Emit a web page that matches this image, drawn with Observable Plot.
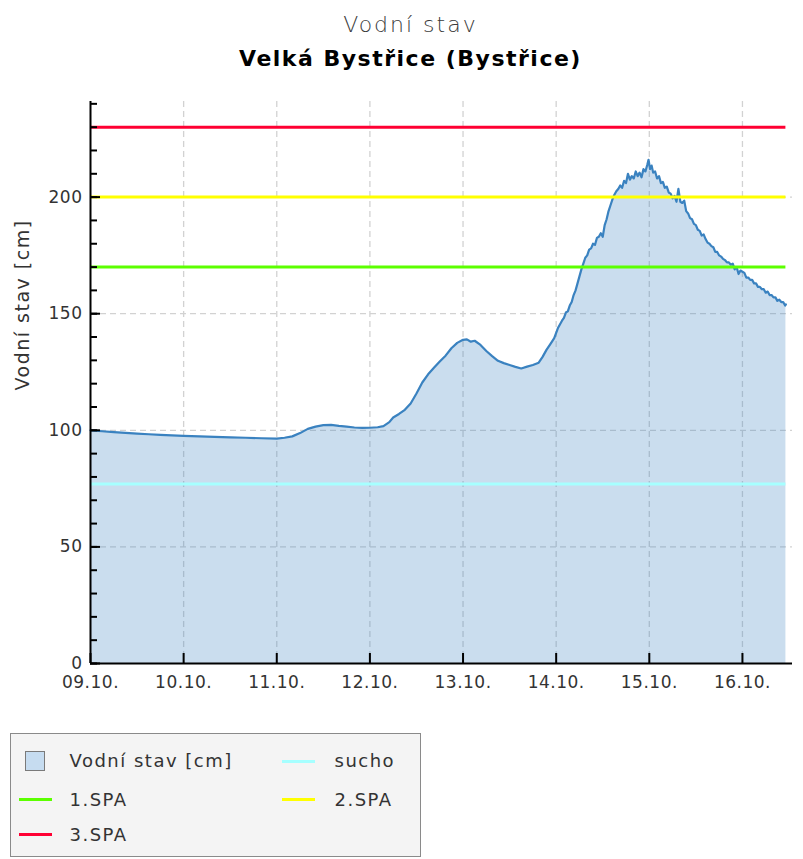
<!DOCTYPE html>
<html><head><meta charset="utf-8">
<script src="https://cdn.jsdelivr.net/npm/d3@7"></script>
<script src="https://cdn.jsdelivr.net/npm/@observablehq/plot@0.6"></script>
<style>
body{margin:0;background:#fff;font-family:"DejaVu Sans",sans-serif;}
#wrap{position:relative;width:803px;height:859px;overflow:hidden;background:#fff}
.t{position:absolute;left:9px;width:803px;text-align:center;white-space:nowrap;line-height:22px}
#title{top:14px;font-size:22px;font-weight:200;letter-spacing:2px;color:#3a3a3a}
#subtitle{top:48px;font-size:22px;font-weight:bold;letter-spacing:1.5px;color:#000}
#chart{position:absolute;left:0;top:90px}
#legend{position:absolute;left:10px;top:733px;width:409px;height:122px;background:#f4f4f4;border:1.5px solid #8a8a8a;}
.lt{position:absolute;font-size:18px;letter-spacing:1.5px;color:#333;line-height:18px;white-space:nowrap}
.ll{position:absolute;height:3px;width:33px}
.ls{position:absolute;width:18px;height:18px;border:1.5px solid #7a7a7a;background:#c6dcf0}
g[aria-label="text"] text{letter-spacing:1.5px}
g[aria-label="y-axis tick label"] text, g[aria-label="x-axis tick label"] text{letter-spacing:0.5px}
</style>
</head><body>
<div id="wrap">
  <div id="title" class="t">Vodní stav</div>
  <div id="subtitle" class="t">Velká Bystřice (Bystřice)</div>
  <div id="chart"></div>
  <div id="legend"></div>
</div>
<script>
const titleText = "Vodní stav";
const subtitleText = "Velká Bystřice (Bystřice)";
const yLabel = "Vodní stav [cm]";
const seriesName = "Vodní stav [cm]";

// hours since 09.10. 00:00 and water level in cm
const hours = [0,3,6,9,12,15,18,21,24,28,32,36,40,44,48,50,52,54,56,58,60,62,64,66,68,70,72,74,75.5,77,78,79.5,81,82.5,84,85.5,87,88.5,90,91.5,93,94.5,96,97,98,99,100.5,102,103.5,105,106.5,108,109.5,111,112.5,114,115.5,116.5,117.5,118.5,119.5,
  120.5,121,121.5,122,122.5,123,123.5,124,124.5,125,125.5,126,126.5,127,127.5,128,128.5,129,129.5,130,130.5,131,131.5,132,132.5,133,133.5,134,134.5,135,135.5,136,136.5,137,137.5,138,138.5,139,139.5,140,140.5,141,141.5,142,142.5,143,143.5,143.8,144.2,144.6,145,145.5,146,146.5,147,147.5,148,148.5,149,149.5,150,150.5,151,151.5,152,152.5,153,153.5,154,154.5,155,155.5,156,156.5,157,157.5,158,158.5,159,159.5,160,160.5,161,161.5,162,162.5,163,163.5,164,164.5,165,165.5,166,166.5,167,167.5,168,168.5,169,169.5,170,170.5,171,171.5,172,172.5,173,173.5,174,174.5,175,175.5,176,176.5,177,177.5,178,178.5,179,179.2];
const levels = [100.0,99.6,99.2,98.9,98.6,98.3,98.0,97.8,97.6,97.4,97.2,97.0,96.8,96.6,96.4,96.8,97.4,98.8,100.6,101.6,102.2,102.3,101.9,101.6,101.2,101.0,101.1,101.3,101.8,103.5,105.5,107.0,108.8,111.5,115.8,120.5,124.0,126.8,129.5,132.0,135.2,137.5,138.8,139.0,138.0,138.4,136.6,134.0,131.8,129.8,128.8,128.0,127.2,126.5,127.3,128.0,129.0,131.5,134.5,137.0,139.5,
  144.0,145.5,147.0,148.2,150.5,151.0,153.5,155.0,158.0,160.0,163.0,166.0,169.0,171.5,174.0,175.0,177.5,178.0,180.0,179.5,182.5,183.0,184.5,183.0,188.0,190.5,194.0,196.5,199.0,201.0,202.5,203.5,205.0,204.0,207.0,206.0,210.0,207.5,209.0,208.0,211.0,209.0,210.5,208.5,212.0,211.0,214.0,216.0,212.0,213.5,210.5,211.0,208.0,209.0,206.0,206.5,204.0,204.5,202.0,201.5,199.5,200.5,198.0,203.5,198.0,197.5,198.5,194.0,193.0,191.0,190.5,188.5,188.0,186.0,185.5,183.5,184.0,182.0,180.5,180.0,179.0,178.5,176.5,176.5,175.0,174.5,173.5,173.0,172.0,172.0,171.0,171.5,169.0,170.0,167.0,168.5,168.0,167.5,165.5,165.5,164.5,164.5,163.0,163.0,161.5,161.5,160.5,160.5,159.0,159.5,158.0,158.0,157.0,157.0,155.5,156.0,155.0,155.0,153.5,154.0];

const thresholdNames = ["sucho","1.SPA","2.SPA","3.SPA"];
const thresholdValues = [77,170,200,230];
const thresholdColors = ["#a6ffff","#5cff00","#ffff00","#ff0033"];

const yMajor = [0,50,100,150,200];
const yMinor = d3.range(0, 241, 10);
const xTickDays = ["2024-10-09","2024-10-10","2024-10-11","2024-10-12","2024-10-13","2024-10-14","2024-10-15","2024-10-16"];

const seriesColor = "#3a82c0";
const H = 3600e3;
const base = Date.UTC(2024, 9, 9);
const data = hours.map((h, i) => ({t: new Date(base + h * H), v: levels[i]}));
const tStart = new Date(base);
const tEnd = data[data.length - 1].t;
const xDomain = [tStart, new Date(base + 180.9 * H)];
const days = xTickDays.map(s => new Date(s + "T00:00:00Z"));
const thresholds = thresholdNames.map((n, i) => ({name: n, value: thresholdValues[i], color: thresholdColors[i], x1: tStart, x2: tEnd}));

const gridStyle = {stroke: "#d2d2d2", strokeDasharray: "6,4", strokeWidth: 1.3};

const chart = Plot.plot({
  width: 803, height: 620,
  marginTop: 11, marginBottom: 47, marginLeft: 90, marginRight: 11,
  style: {fontFamily: "DejaVu Sans", fontSize: "17px", color: "#333", background: "transparent", overflow: "visible"},
  x: {type: "utc", domain: xDomain},
  y: {domain: [0, 241]},
  marks: [
    Plot.ruleX(days.slice(1), gridStyle),
    Plot.ruleY(yMajor.filter(d => d > 0), gridStyle),
    Plot.areaY(data, {x: "t", y: "v", fill: seriesColor, fillOpacity: 0.27}),
    Plot.line(data, {x: "t", y: "v", stroke: seriesColor, strokeWidth: 2.2}),
    ...thresholds.map(d => Plot.ruleY([d], {y: "value", x1: "x1", x2: "x2", stroke: d.color, strokeWidth: 3})),
    Plot.axisX({ticks: days, tickFormat: d3.utcFormat("%d.%m."), tickSize: 0, tickPadding: 12, label: null, fill: "#333"}),
    Plot.axisX({ticks: days, tickSize: -10, fill: "none", label: null, stroke: "#000", strokeWidth: 2}),
    Plot.axisY({ticks: yMajor, tickSize: 0, tickPadding: 8, label: null, fill: "#333"}),
    Plot.axisY({ticks: yMajor, tickSize: -10, fill: "none", label: null, stroke: "#000", strokeWidth: 2}),
    Plot.axisY({ticks: yMinor, tickSize: -7, fill: "none", label: null, stroke: "#000", strokeWidth: 2}),
    Plot.ruleX([tStart], {stroke: "#000", strokeWidth: 2}),
    Plot.ruleY([0], {stroke: "#000", strokeWidth: 2}),
    Plot.text([yLabel], {text: d => d, frameAnchor: "left", dx: -68, dy: 8, rotate: -90, fontSize: 19, fill: "#333"})
  ]
});
document.getElementById("chart").appendChild(chart);

// legend
const legend = document.getElementById("legend");
const items = [
  {type: "square", name: seriesName, col: 0, row: 0},
  {type: "line", name: thresholdNames[0], color: thresholdColors[0], col: 1, row: 0},
  {type: "line", name: thresholdNames[1], color: thresholdColors[1], col: 0, row: 1},
  {type: "line", name: thresholdNames[2], color: thresholdColors[2], col: 1, row: 1},
  {type: "line", name: thresholdNames[3], color: thresholdColors[3], col: 0, row: 2}
];
const rowC = [27.2, 65.5, 100.5];
const colLine = [7.5, 270.5];
const colText = [58.5, 323.5];
for (const it of items) {
  const c = rowC[it.row];
  if (it.type === "square") {
    const s = document.createElement("div");
    s.className = "ls";
    s.style.left = "13.5px"; s.style.top = (c - 10.5) + "px";
    legend.appendChild(s);
  } else {
    const l = document.createElement("div");
    l.className = "ll";
    l.style.left = colLine[it.col] + "px"; l.style.top = (c - 1.5) + "px";
    l.style.background = it.color;
    legend.appendChild(l);
  }
  const t = document.createElement("div");
  t.className = "lt";
  t.textContent = it.name;
  t.style.left = colText[it.col] + "px"; t.style.top = (c - 9) + "px";
  legend.appendChild(t);
}
</script>
</body></html>
